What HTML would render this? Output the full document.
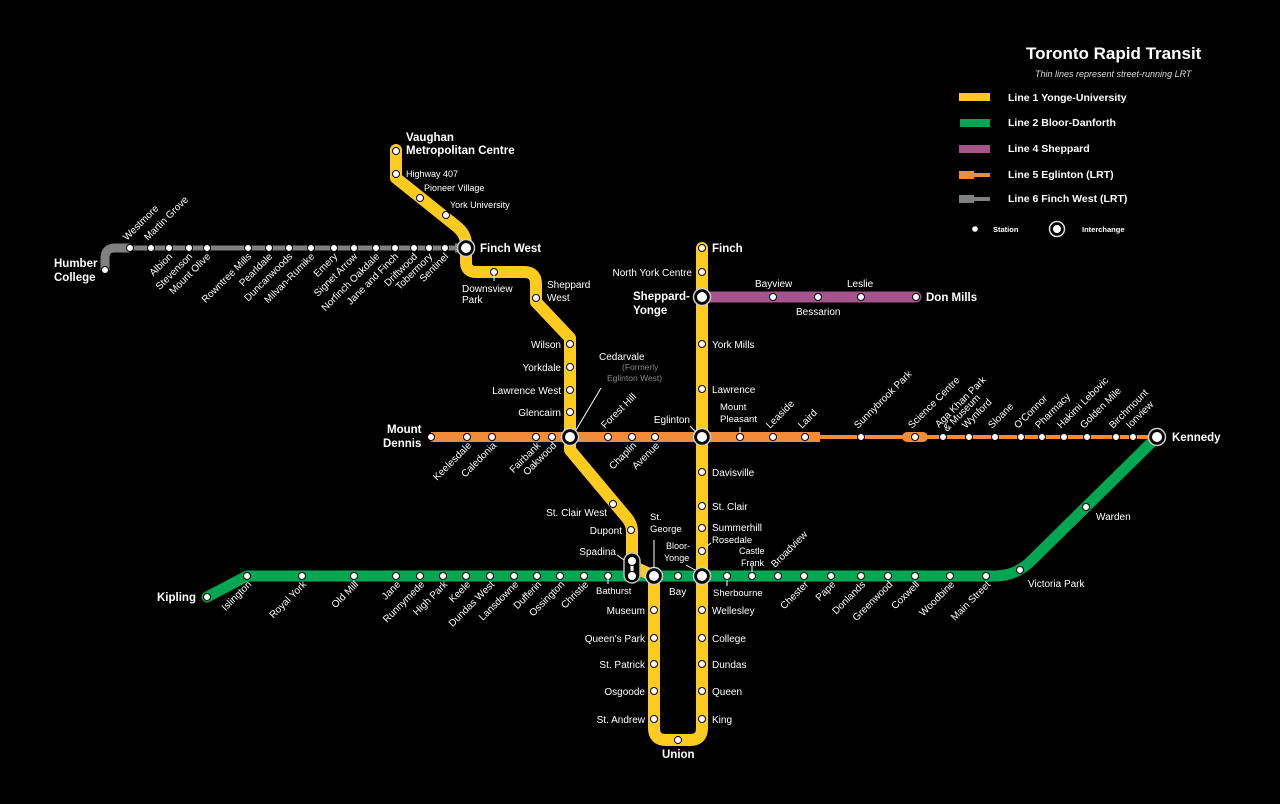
<!DOCTYPE html>
<html><head><meta charset="utf-8"><style>
html,body{margin:0;padding:0;background:#000;}
svg{display:block;font-family:"Liberation Sans",Arial,sans-serif;}
.s{fill:#fff;stroke:#000;stroke-width:1}
.t{fill:#fff;font-size:10px}
.b{fill:#fff;font-size:11.5px;font-weight:bold}
.g{fill:#888;font-size:8.5px}
</style></head><body>
<svg width="1280" height="804" viewBox="0 0 1280 804" xmlns="http://www.w3.org/2000/svg">
<rect width="1280" height="804" fill="#000"/>
<!-- Line 6 -->
<path d="M105,270 L105,258 Q105,248 115,248 L130,248" fill="none" stroke="#808080" stroke-width="9"/>
<path d="M118,248 L460,248" fill="none" stroke="#808080" stroke-width="5"/>
<path d="M455,248 L466,248" fill="none" stroke="#808080" stroke-width="9"/>
<!-- Line 5 -->
<path d="M431,437 L820,437" stroke="#f28c38" stroke-width="10" fill="none"/>
<path d="M815,437 L1150,437" stroke="#f28c38" stroke-width="4" fill="none"/>
<path d="M907,437 L923,437" stroke="#f28c38" stroke-width="10" stroke-linecap="round" fill="none"/>
<!-- Line 4 -->
<path d="M702,297 L916,297" stroke="#a3558c" stroke-width="11" stroke-linecap="round" fill="none"/>
<!-- Line 2 -->
<path d="M207,597 L247,576 L995,576 Q1015,576 1030,562 L1157,437" stroke="#00a651" stroke-width="11" stroke-linejoin="round" stroke-linecap="round" fill="none"/>
<!-- Line 1 -->
<path d="M396,150 L396,178 L456,226 Q466,234 466,244 L466,262 Q466,272 476,272 L524,272 Q536,272 536,284 L536,302 L570,338 L570,450 L627,518 Q632,524 632,532 L632,566 L654,576 L654,728 Q654,740 666,740 L690,740 Q702,740 702,728 L702,248" stroke="#ffcb1f" stroke-width="12" stroke-linejoin="round" stroke-linecap="round" fill="none"/>
<!-- Spadina connector -->
<rect x="624" y="553" width="16" height="30" rx="8" fill="#000" stroke="#bbb" stroke-width="1.5"/>
<line x1="632" y1="562" x2="632" y2="575" stroke="#fff" stroke-width="3"/>
<circle cx="632" cy="561" r="4.5" class="s"/><circle cx="632" cy="576" r="4.5" class="s"/>

<g class="s">
<circle cx="105" cy="270" r="3.5"/>
<circle cx="130" cy="248" r="3.5"/><circle cx="151" cy="248" r="3.5"/><circle cx="169" cy="248" r="3.5"/><circle cx="189" cy="248" r="3.5"/><circle cx="207" cy="248" r="3.5"/><circle cx="248" cy="248" r="3.5"/><circle cx="269" cy="248" r="3.5"/><circle cx="289" cy="248" r="3.5"/><circle cx="311" cy="248" r="3.5"/><circle cx="334" cy="248" r="3.5"/><circle cx="354" cy="248" r="3.5"/><circle cx="376" cy="248" r="3.5"/><circle cx="395" cy="248" r="3.5"/><circle cx="414" cy="248" r="3.5"/><circle cx="429" cy="248" r="3.5"/><circle cx="445" cy="248" r="3.5"/>
<circle cx="396" cy="151" r="3.5"/><circle cx="396" cy="174" r="3.5"/><circle cx="420" cy="198" r="3.5"/><circle cx="446" cy="215" r="3.5"/>
<circle cx="494" cy="272" r="3.5"/><circle cx="536" cy="298" r="3.5"/>
<circle cx="570" cy="344" r="3.5"/><circle cx="570" cy="367" r="3.5"/><circle cx="570" cy="390" r="3.5"/><circle cx="570" cy="412" r="3.5"/>
<circle cx="613" cy="504" r="3.5"/><circle cx="631" cy="530" r="3.5"/>
<circle cx="654" cy="610" r="3.5"/><circle cx="654" cy="638" r="3.5"/><circle cx="654" cy="664" r="3.5"/><circle cx="654" cy="691" r="3.5"/><circle cx="654" cy="719" r="3.5"/>
<circle cx="678" cy="740" r="3.5"/>
<circle cx="702" cy="248" r="3.5"/><circle cx="702" cy="272" r="3.5"/><circle cx="702" cy="344" r="3.5"/><circle cx="702" cy="389" r="3.5"/><circle cx="702" cy="472" r="3.5"/><circle cx="702" cy="506" r="3.5"/><circle cx="702" cy="528" r="3.5"/><circle cx="702" cy="551" r="3.5"/>
<circle cx="702" cy="610" r="3.5"/><circle cx="702" cy="638" r="3.5"/><circle cx="702" cy="664" r="3.5"/><circle cx="702" cy="691" r="3.5"/><circle cx="702" cy="719" r="3.5"/>
<circle cx="773" cy="297" r="3.5"/><circle cx="818" cy="297" r="3.5"/><circle cx="861" cy="297" r="3.5"/><circle cx="916" cy="297" r="3.5"/>
<circle cx="431" cy="437" r="3.5"/><circle cx="467" cy="437" r="3.5"/><circle cx="492" cy="437" r="3.5"/><circle cx="536" cy="437" r="3.5"/><circle cx="552" cy="437" r="3.5"/><circle cx="608" cy="437" r="3.5"/><circle cx="632" cy="437" r="3.5"/><circle cx="655" cy="437" r="3.5"/><circle cx="740" cy="437" r="3.5"/><circle cx="773" cy="437" r="3.5"/><circle cx="805" cy="437" r="3.5"/><circle cx="861" cy="437" r="3.5"/><circle cx="915" cy="437" r="3.5"/><circle cx="943" cy="437" r="3.5"/><circle cx="969" cy="437" r="3.5"/><circle cx="995" cy="437" r="3.5"/><circle cx="1021" cy="437" r="3.5"/><circle cx="1042" cy="437" r="3.5"/><circle cx="1064" cy="437" r="3.5"/><circle cx="1087" cy="437" r="3.5"/><circle cx="1116" cy="437" r="3.5"/><circle cx="1133" cy="437" r="3.5"/>
<circle cx="207" cy="597" r="3.5"/><circle cx="247" cy="576" r="3.5"/><circle cx="302" cy="576" r="3.5"/><circle cx="354" cy="576" r="3.5"/><circle cx="396" cy="576" r="3.5"/><circle cx="420" cy="576" r="3.5"/><circle cx="443" cy="576" r="3.5"/><circle cx="466" cy="576" r="3.5"/><circle cx="490" cy="576" r="3.5"/><circle cx="514" cy="576" r="3.5"/><circle cx="537" cy="576" r="3.5"/><circle cx="560" cy="576" r="3.5"/><circle cx="584" cy="576" r="3.5"/><circle cx="608" cy="576" r="3.5"/><circle cx="678" cy="576" r="3.5"/><circle cx="727" cy="576" r="3.5"/><circle cx="752" cy="576" r="3.5"/><circle cx="778" cy="576" r="3.5"/><circle cx="804" cy="576" r="3.5"/><circle cx="831" cy="576" r="3.5"/><circle cx="861" cy="576" r="3.5"/><circle cx="888" cy="576" r="3.5"/><circle cx="915" cy="576" r="3.5"/><circle cx="950" cy="576" r="3.5"/><circle cx="986" cy="576" r="3.5"/><circle cx="1020" cy="570" r="3.5"/><circle cx="1086" cy="507" r="3.5"/>
</g>
<g>
<circle cx="466" cy="248" r="8.5" fill="#000" stroke="#ccc" stroke-width="1.5"/><circle cx="466" cy="248" r="5" fill="#fff"/>
<circle cx="702" cy="297" r="8.5" fill="#000" stroke="#ccc" stroke-width="1.5"/><circle cx="702" cy="297" r="5" fill="#fff"/>
<circle cx="570" cy="437" r="8.5" fill="#000" stroke="#ccc" stroke-width="1.5"/><circle cx="570" cy="437" r="5" fill="#fff"/>
<circle cx="702" cy="437" r="8.5" fill="#000" stroke="#ccc" stroke-width="1.5"/><circle cx="702" cy="437" r="5" fill="#fff"/>
<circle cx="654" cy="576" r="8.5" fill="#000" stroke="#ccc" stroke-width="1.5"/><circle cx="654" cy="576" r="5" fill="#fff"/>
<circle cx="702" cy="576" r="8.5" fill="#000" stroke="#ccc" stroke-width="1.5"/><circle cx="702" cy="576" r="5" fill="#fff"/>
<circle cx="1157" cy="437" r="8.5" fill="#000" stroke="#ccc" stroke-width="1.5"/><circle cx="1157" cy="437" r="5" fill="#fff"/>
</g>
<g stroke="#fff" stroke-width="1">
<line x1="494" y1="272" x2="494" y2="281"/><line x1="608" y1="576" x2="608" y2="584"/><line x1="654" y1="540" x2="654" y2="568"/>
<line x1="740" y1="427" x2="740" y2="433"/><line x1="752" y1="566" x2="752" y2="572"/><line x1="727" y1="580" x2="727" y2="586"/>
<line x1="576" y1="430" x2="601" y2="388"/><line x1="690" y1="426" x2="696" y2="432"/><line x1="686" y1="565" x2="695" y2="570"/><line x1="706" y1="547" x2="711" y2="543"/><line x1="617" y1="555" x2="624" y2="560"/>
</g>
<g class="b">
<text x="406" y="141">Vaughan</text><text x="406" y="154">Metropolitan Centre</text>
<text x="480" y="252">Finch West</text>
<text x="54" y="267">Humber</text><text x="54" y="281">College</text>
<text x="712" y="252">Finch</text>
<text x="633" y="300">Sheppard-</text><text x="633" y="314">Yonge</text>
<text x="926" y="301">Don Mills</text>
<text x="387" y="433">Mount</text><text x="383" y="447">Dennis</text>
<text x="1172" y="441">Kennedy</text>
<text x="157" y="601">Kipling</text>
<text x="662" y="758">Union</text>
</g>
<g class="t">
<text x="406" y="177" font-size="9">Highway 407</text>
<text x="424" y="191" font-size="9">Pioneer Village</text>
<text x="450" y="208" font-size="9">York University</text>
<text x="462" y="292">Downsview</text><text x="462" y="303">Park</text>
<text x="547" y="288">Sheppard</text><text x="547" y="301">West</text>
<g text-anchor="end">
<text x="561" y="348">Wilson</text><text x="561" y="371">Yorkdale</text><text x="561" y="394">Lawrence West</text><text x="561" y="416">Glencairn</text>
<text x="607" y="516">St. Clair West</text><text x="622" y="534">Dupont</text><text x="616" y="555">Spadina</text>
<text x="645" y="614">Museum</text><text x="645" y="642">Queen's Park</text><text x="645" y="668">St. Patrick</text><text x="645" y="695">Osgoode</text><text x="645" y="723">St. Andrew</text>
<text x="692" y="276">North York Centre</text>
<text x="690" y="423">Eglinton</text>
</g>
<text x="599" y="360">Cedarvale</text>
<text x="622" y="370" class="g">(Formerly</text><text x="607" y="381" class="g">Eglinton West)</text>
<text x="650" y="520" font-size="9.5">St.</text><text x="650" y="532" font-size="9.5">George</text>
<text x="666" y="549" font-size="9">Bloor-</text><text x="664" y="561" font-size="9">Yonge</text>
<text x="596" y="594" font-size="9.5">Bathurst</text>
<text x="669" y="595">Bay</text>
<text x="712" y="348">York Mills</text><text x="712" y="393">Lawrence</text>
<text x="720" y="410" font-size="9.5">Mount</text><text x="720" y="422" font-size="9.5">Pleasant</text>
<text x="712" y="476">Davisville</text><text x="712" y="510">St. Clair</text><text x="712" y="531">Summerhill</text><text x="712" y="543" font-size="9.5">Rosedale</text>
<text x="739" y="554" font-size="9">Castle</text><text x="741" y="566" font-size="9">Frank</text>
<text x="713" y="596" font-size="9.5">Sherbourne</text>
<text x="712" y="614">Wellesley</text><text x="712" y="642">College</text><text x="712" y="668">Dundas</text><text x="712" y="695">Queen</text><text x="712" y="723">King</text>
<text x="755" y="287">Bayview</text><text x="796" y="315">Bessarion</text><text x="847" y="287">Leslie</text>
<text x="1096" y="520">Warden</text><text x="1028" y="587">Victoria Park</text>
</g>
<g class="t" font-size="9.5">
<text transform="translate(127,241) rotate(-45)">Westmore</text>
<text transform="translate(148,241) rotate(-45)">Martin Grove</text>
<text transform="translate(605,429) rotate(-45)">Forest Hill</text>
<text transform="translate(770,429) rotate(-45)">Leaside</text>
<text transform="translate(802,429) rotate(-45)">Laird</text>
<text transform="translate(858,429) rotate(-45)">Sunnybrook Park</text>
<text transform="translate(912,429) rotate(-45)">Science Centre</text>
<text transform="translate(939,428) rotate(-45)">Aga Khan Park</text>
<text transform="translate(947,432) rotate(-45)">&amp; Museum</text>
<text transform="translate(966,429) rotate(-45)">Wynford</text>
<text transform="translate(992,429) rotate(-45)">Sloane</text>
<text transform="translate(1018,429) rotate(-45)">O'Connor</text>
<text transform="translate(1039,429) rotate(-45)">Pharmacy</text>
<text transform="translate(1061,429) rotate(-45)">Hakimi Lebovic</text>
<text transform="translate(1084,429) rotate(-45)">Golden Mile</text>
<text transform="translate(1113,429) rotate(-45)">Birchmount</text>
<text transform="translate(1130,429) rotate(-45)">Ionview</text>
<text transform="translate(775,568) rotate(-45)">Broadview</text>
</g>
<g class="t" font-size="9.5" text-anchor="end">
<text transform="translate(173,257) rotate(-45)">Albion</text>
<text transform="translate(193,257) rotate(-45)">Stevenson</text>
<text transform="translate(211,257) rotate(-45)">Mount Olive</text>
<text transform="translate(252,257) rotate(-45)">Rowntree Mills</text>
<text transform="translate(273,257) rotate(-45)">Pearldale</text>
<text transform="translate(293,257) rotate(-45)">Duncanwoods</text>
<text transform="translate(315,257) rotate(-45)">Milvan-Rumike</text>
<text transform="translate(338,257) rotate(-45)">Emery</text>
<text transform="translate(358,257) rotate(-45)">Signet Arrow</text>
<text transform="translate(380,257) rotate(-45)">Norfinch Oakdale</text>
<text transform="translate(399,257) rotate(-45)">Jane and Finch</text>
<text transform="translate(418,257) rotate(-45)">Driftwood</text>
<text transform="translate(433,257) rotate(-45)">Tobermory</text>
<text transform="translate(449,257) rotate(-45)">Sentinel</text>
<text transform="translate(472,446) rotate(-45)" font-size="10">Keelesdale</text>
<text transform="translate(497,446) rotate(-45)" font-size="10">Caledonia</text>
<text transform="translate(541,446) rotate(-45)" font-size="10">Fairbank</text>
<text transform="translate(557,446) rotate(-45)" font-size="10">Oakwood</text>
<text transform="translate(637,446) rotate(-45)" font-size="10">Chaplin</text>
<text transform="translate(660,446) rotate(-45)" font-size="10">Avenue</text>
<text transform="translate(252,585) rotate(-45)">Islington</text>
<text transform="translate(307,585) rotate(-45)">Royal York</text>
<text transform="translate(359,585) rotate(-45)">Old Mill</text>
<text transform="translate(401,585) rotate(-45)">Jane</text>
<text transform="translate(425,585) rotate(-45)">Runnymede</text>
<text transform="translate(448,585) rotate(-45)">High Park</text>
<text transform="translate(471,585) rotate(-45)">Keele</text>
<text transform="translate(495,585) rotate(-45)">Dundas West</text>
<text transform="translate(519,585) rotate(-45)">Lansdowne</text>
<text transform="translate(542,585) rotate(-45)">Dufferin</text>
<text transform="translate(565,585) rotate(-45)">Ossington</text>
<text transform="translate(589,585) rotate(-45)">Christie</text>
<text transform="translate(809,585) rotate(-45)">Chester</text>
<text transform="translate(836,585) rotate(-45)">Pape</text>
<text transform="translate(866,585) rotate(-45)">Donlands</text>
<text transform="translate(893,585) rotate(-45)">Greenwood</text>
<text transform="translate(920,585) rotate(-45)">Coxwell</text>
<text transform="translate(955,585) rotate(-45)">Woodbine</text>
<text transform="translate(991,585) rotate(-45)">Main Street</text>
</g>
<text x="1026" y="59" fill="#fff" font-size="17" font-weight="bold">Toronto Rapid Transit</text>
<text x="1035" y="77" fill="#ddd" font-size="9" font-style="italic">Thin lines represent street-running LRT</text>
<rect x="959" y="93" width="31" height="8" fill="#ffcb1f"/>
<rect x="960" y="119" width="30" height="8" fill="#00a651"/>
<rect x="959" y="145" width="31" height="8" fill="#a3558c"/>
<rect x="959" y="171" width="15" height="8" fill="#f28c38"/><rect x="972" y="173" width="18" height="4" fill="#f28c38"/>
<rect x="959" y="195" width="15" height="8" fill="#808080"/><rect x="972" y="197" width="18" height="4" fill="#808080"/>
<g fill="#fff" font-size="10.5" font-weight="bold">
<text x="1008" y="101">Line 1 Yonge-University</text>
<text x="1008" y="126">Line 2 Bloor-Danforth</text>
<text x="1008" y="152">Line 4 Sheppard</text>
<text x="1008" y="178">Line 5 Eglinton (LRT)</text>
<text x="1008" y="202">Line 6 Finch West (LRT)</text>
<text x="993" y="232" font-size="7.5">Station</text>
<text x="1082" y="232" font-size="7.5">Interchange</text>
</g>
<circle cx="975" cy="229" r="2.8" fill="#fff"/>
<circle cx="1057" cy="229" r="7.5" fill="#000" stroke="#ddd" stroke-width="1.5"/><circle cx="1057" cy="229" r="4" fill="#fff"/>
</svg>
</body></html>
